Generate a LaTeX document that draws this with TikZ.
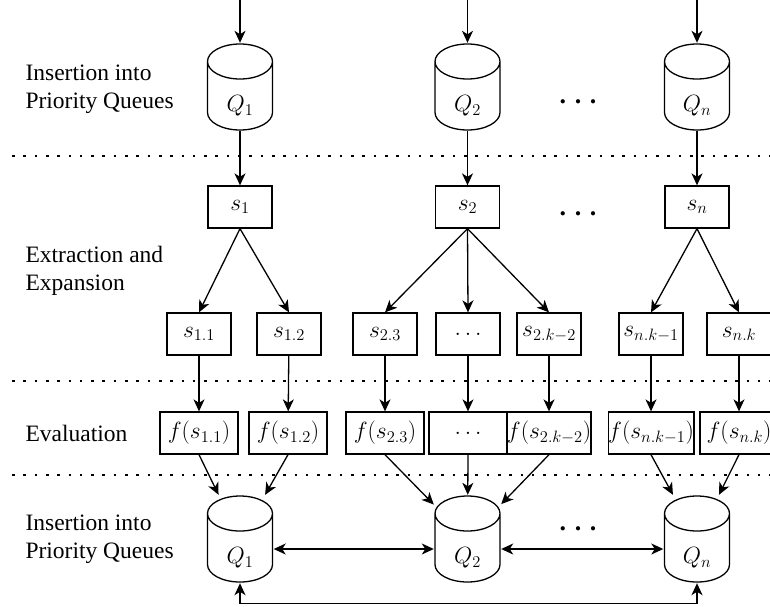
\documentclass[tikz,border=0pt]{standalone}
\usepackage{fix-cm}
\usepackage{fontspec}
\setmainfont{Liberation Serif}
\usetikzlibrary{arrows.meta}

\begin{document}
\begin{tikzpicture}[
      x=1pt,y=-1pt,
      font=\fontsize{23.5}{28}\selectfont,
      box/.style={draw,line width=1.3pt,minimum width=64pt,minimum height=42pt,inner sep=0pt},
      fbox/.style={box,minimum width=78pt},
      queue/.style={fill=white,minimum width=67pt,minimum height=88pt,inner sep=0pt,
        text height=55pt,text depth=6pt,
        path picture={
          \draw[line width=1.3pt]
            ([shift={(-32.5pt,25.5pt)}]path picture bounding box.center)
            -- ([shift={(-32.5pt,-25.5pt)}]path picture bounding box.center)
            arc[start angle=180,end angle=360,x radius=32.5pt,y radius=17.5pt]
            -- ([shift={(32.5pt,25.5pt)}]path picture bounding box.center)
            arc[start angle=0,end angle=180,x radius=32.5pt,y radius=17.5pt]
            arc[start angle=180,end angle=360,x radius=32.5pt,y radius=17.5pt];
        }},
      stage/.style={anchor=west,align=left},
      sep/.style={line width=2.6pt,dash pattern=on 2.6pt off 8.7pt},
      arr/.style={-{Stealth[length=12pt,width=11pt,inset=3.5pt]},line width=1.3pt},
      both/.style={{Stealth[length=12pt,width=11pt,inset=3.5pt]}-{Stealth[length=12pt,width=11pt,inset=3.5pt]},line width=1.3pt},
      more/.style={font=\fontsize{26}{28}\selectfont\bfseries},
      ]
      \useasboundingbox (0,0) rectangle (770,606);
      \clip (0,0) rectangle (770,606);
      \def\qa{240}
      \def\qb{467.5}
      \def\qn{697}
      \def\more{578}

      % separators
      \draw[sep] (12,156) -- (775,156);
      \draw[sep] (12,381) -- (775,381);
      \draw[sep] (12,475) -- (775,475);

      % stage labels
      \node[stage] (l1) at (22,89) {Insertion into\\Priority Queues};
      \node[stage] (l2) at (22,271) {Extraction and\\Expansion};
      \node[stage] (l3) at (22,433) {Evaluation};
      \node[stage] (l4) at (22,539) {Insertion into\\Priority Queues};

      % input queues
      \node[queue] (qa) at (\qa,87) {$Q_1$};
      \node[queue] (qb) at (\qb,87) {$Q_2$};
      \node[queue] (qn) at (\qn,87) {$Q_n$};
      \node[more] (m1) at (\more,102) {. . .};
      \coordinate (ina) at (\qa,-2);
      \coordinate (inb) at (\qb,-2);
      \coordinate (inn) at (\qn,-2);

      % extracted states
      \node[box] (sa) at (\qa,207) {$s_1$};
      \node[box] (sb) at (\qb,207) {$s_2$};
      \node[box] (sn) at (\qn,207) {$s_n$};
      \node[more] (m2) at (\more,214) {. . .};

      % expanded states
      \node[box] (s11) at (199,334) {$s_{1.1}$};
      \node[box] (s12) at (289,334) {$s_{1.2}$};
      \node[box] (s23) at (385,334) {$s_{2.3}$};
      \node[box] (s2x) at (468,334) {$\dots$};
      \node[box] (s2k) at (549,334) {$s_{2.k-2}$};
      \node[box] (snk1) at (651,334) {$s_{n.k-1}$};
      \node[box] (snk) at (739,334) {$s_{n.k}$};

      % evaluations
      \node[fbox] (f11) at (199,433) {$f(s_{1.1})$};
      \node[fbox] (f12) at (288,433) {$f(s_{1.2})$};
      \node[fbox] (f23) at (385,433) {$f(s_{2.3})$};
      \node[fbox] (f2x) at (468,433) {$\dots$};
      \node[fbox] (f2k) at (549,433) {$f(s_{2.k-2})$};
      \node[fbox] (fnk1) at (651,433) {$f(s_{n.k-1})$};
      \node[fbox] (fnk) at (739,433) {$f(s_{n.k})$};

      % output queues
      \node[queue] (qa2) at (\qa,539) {$Q_1$};
      \node[queue] (qb2) at (\qb,539) {$Q_2$};
      \node[queue] (qn2) at (\qn,539) {$Q_n$};
      \node[more] (m3) at (\more,529) {. . .};

      \draw[arr] (ina) -- (qa);
      \draw[arr] (inb) -- (qb);
      \draw[arr] (inn) -- (qn);
      \draw[arr] (qa.south) -- (sa);
      \draw[arr] (qb.south) -- (sb);
      \draw[arr] (qn.south) -- (sn);

      \draw[arr] (sa.south) -- (s11.north);
      \draw[arr] (sa.south) -- (s12.north);
      \draw[arr] (sb.south) -- (s23.north);
      \draw[arr] (sb.south) -- (s2x.north);
      \draw[arr] (sb.south) -- (s2k.north);
      \draw[arr] (sn.south) -- (snk1.north);
      \draw[arr] (sn.south) -- (snk.north);

      \foreach \s/\f in {s11/f11,s12/f12,s23/f23,s2x/f2x,s2k/f2k,snk1/fnk1,snk/fnk}
        \draw[arr] (\s) -- (\f);

      \draw[arr] (f11.south) -- (qa2);
      \draw[arr] (f12.south) -- (qa2);
      \draw[arr] (f23.south) -- (qb2);
      \draw[arr] (f2x.south) -- (qb2);
      \draw[arr] (f2k.south) -- (qb2);
      \draw[arr] (fnk1.south) -- (qn2);
      \draw[arr] (fnk.south) -- (qn2);

      \draw[both] ([yshift=-10pt]qa2.east) -- ([yshift=-10pt]qb2.west);
      \draw[both] ([yshift=-10pt]qb2.east) -- ([yshift=-10pt]qn2.west);
      \draw[both] (qa2.south) -- ++(0,20) -| (qn2.south);
    \end{tikzpicture}
\end{document}
